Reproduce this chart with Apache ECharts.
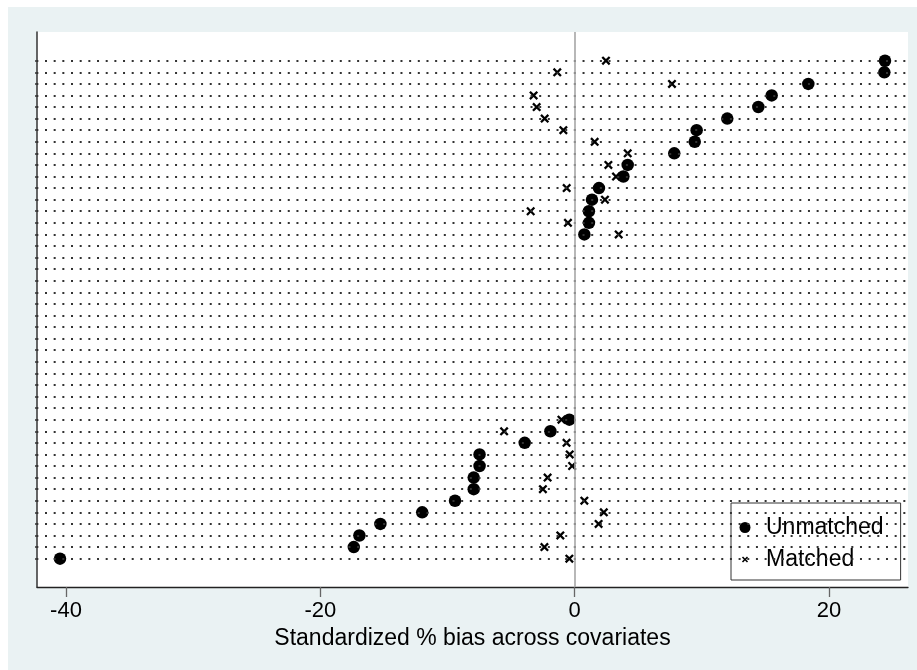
<!DOCTYPE html>
<html>
<head>
<meta charset="utf-8">
<script src="https://cdn.jsdelivr.net/npm/echarts@6/dist/echarts.min.js"></script>
<style>
html,body{margin:0;padding:0;background:#fff;}
#chart{width:917px;height:670px;}
</style>
</head>
<body>
<div id="chart"></div>
<script>
// Rows (covariates), top to bottom
const rows = [1,2,3,4,5,6,7,8,9,10,11,12,13,14,15,16,17,18,19,20,21,22,
              23,24,25,26,27,28,29,30,31,32,33,34,35,36,37,38,39,40,41,42,43,44];
// Standardized % bias, unmatched sample
const unmatched = [24.4, 24.35, 18.37, 15.49, 14.44, 12.0, 9.59, 9.44, 7.83, 4.17, 3.83, 1.91, 1.36, 1.12, 1.12, 0.76,
  null, null, null, null, null, null, null, null, null, null, null, null, null, null, null,
  -0.42, -1.91, -3.93, -7.48, -7.48, -7.94, -7.94, -9.41, -11.99, -15.28, -16.93, -17.37, -40.47];
// Standardized % bias, matched sample
const matched = [2.46, -1.37, 7.65, -3.23, -2.99, -2.36, -0.89, 1.57, 4.17, 2.65, 3.25, -0.63, 2.38, -3.46, -0.53, 3.46,
  null, null, null, null, null, null, null, null, null, null, null, null, null, null, null,
  -1.04, -5.55, -0.64, -0.39, -0.2, -2.13, -2.5, 0.76, 2.29, 1.88, -1.13, -2.38, -0.42];
// x-axis tick labels
const xTicks = [-40, -20, 0, 20];
const seriesNames = ['Unmatched', 'Matched'];
const xTitle = 'Standardized % bias across covariates';

const FONT = "'Liberation Sans', Arial, Helvetica, sans-serif";
const X_SHAPE = 'M1.8,0L5,3.2L8.2,0L10,1.8L6.8,5L10,8.2L8.2,10L5,6.8L1.8,10L0,8.2L3.2,5L0,1.8Z';
const X_PATH = 'path://' + X_SHAPE;
const X_LEGEND = 'path://M-4,-4L-4,-4M14,14L14,14' + X_SHAPE;

function toPoints(vals){
  const out = [];
  vals.forEach((v,i)=>{ if(v!==null) out.push([v, rows[i]]); });
  return out;
}

const chart = echarts.init(document.getElementById('chart'), null, {renderer:'canvas'});
chart.setOption({
  animation:false,
  backgroundColor:'#fff',
  graphic:[
    {type:'rect', left:8, top:7, z:-100, shape:{width:909, height:663}, style:{fill:'#EAF2F3'}},
    {type:'rect', left:37, top:32, z:-99, shape:{width:871, height:555}, style:{fill:'#ffffff'}}
  ],
  grid:{left:37, right:9, top:32, bottom:83, containLabel:false},
  xAxis:{
    type:'value', min:-42.28, max:26.21,
    axisLine:{show:true, onZero:false, lineStyle:{color:'#222', width:1.3}},
    axisTick:{show:true, customValues:xTicks, length:10, lineStyle:{color:'#666', width:1.3}},
    axisLabel:{show:true, customValues:xTicks, fontSize:22, fontFamily:FONT, color:'#000', margin:13},
    splitLine:{show:false},
    name:xTitle, nameLocation:'middle', nameGap:39,
    nameTextStyle:{fontSize:23, fontFamily:FONT, color:'#000'}
  },
  yAxis:{
    type:'value', inverse:true, min:-1.48, max:46.45,
    axisLine:{show:true, onZero:false, lineStyle:{color:'#333', width:1.5}},
    axisTick:{show:true, customValues:rows, length:2, lineStyle:{color:'#333', width:1.5}},
    axisLabel:{show:false},
    splitLine:{show:false}
  },
  legend:{
    orient:'vertical', left:731, top:503,
    padding:[13,17,9,8.5], itemGap:9, itemWidth:11, itemHeight:11,
    backgroundColor:'#fff', borderColor:'#333', borderWidth:1, borderRadius:0,
    selectedMode:false,
    textStyle:{fontSize:23, fontFamily:FONT, color:'#000', lineHeight:23, padding:[0,0,0,10.5]},
    data:[{name:seriesNames[0], icon:'circle'}, {name:seriesNames[1], icon:X_LEGEND}]
  },
  series:[
    {
      type:'scatter', name:'guides', data:[], z:1, silent:true,
      markLine:{
        silent:true, symbol:'none', animation:false,
        label:{show:false},
        emphasis:{disabled:true},
        lineStyle:{color:'#333', width:2, type:[2,6.67], dashOffset:0.67},
        data: rows.map(r=>({yAxis:r}))
      }
    },
    {
      type:'scatter', name:'zero', data:[], z:1, silent:true,
      markLine:{
        silent:true, symbol:'none', animation:false,
        label:{show:false},
        emphasis:{disabled:true},
        lineStyle:{color:'#a6a6a6', width:1.6, type:'solid'},
        data:[{xAxis:0}]
      }
    },
    {
      type:'scatter', name:seriesNames[1], data:toPoints(matched), z:3,
      symbol:X_PATH, symbolSize:9,
      itemStyle:{color:'#000', opacity:1}, silent:true
    },
    {
      type:'scatter', name:seriesNames[0], data:toPoints(unmatched), z:4,
      symbol:'circle', symbolSize:12.5,
      itemStyle:{color:'#000', opacity:1}, silent:true
    }
  ]
});
</script>
</body>
</html>
